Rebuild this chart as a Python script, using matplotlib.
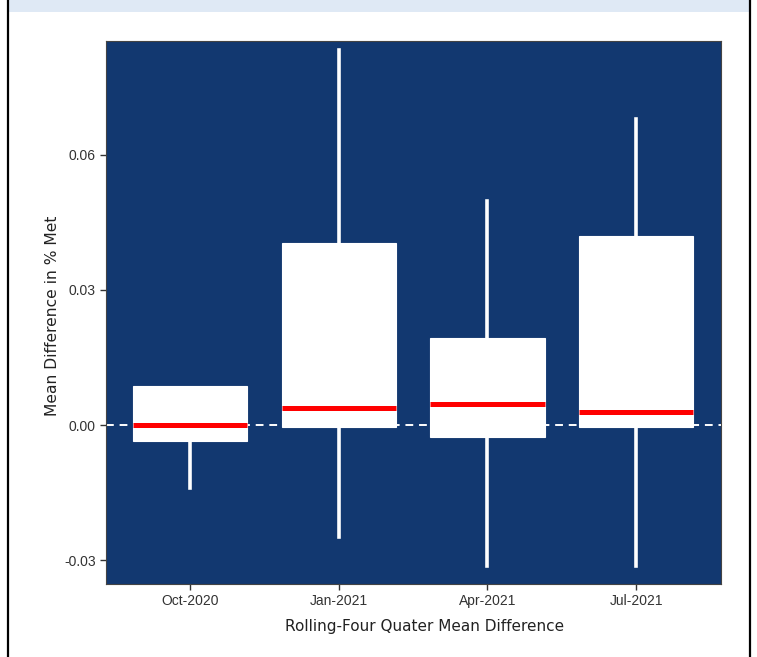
import matplotlib
matplotlib.use("Agg")
import matplotlib.pyplot as plt
from matplotlib.lines import Line2D
from matplotlib.patches import Rectangle

categories = ["Oct-2020", "Jan-2021", "Apr-2021", "Jul-2021"]
whisker_low = [-0.0140, -0.0249, -0.0313, -0.0313]
q1 = [-0.0036, -0.0004, -0.0027, -0.0004]
median = [0.0000, 0.0038, 0.0047, 0.0029]
q3 = [0.0087, 0.0404, 0.0193, 0.0420]
whisker_high = [0.0087, 0.0833, 0.0498, 0.0680]
y_ticks = [-0.03, 0.0, 0.03, 0.06]

fig = plt.figure(figsize=(7.57, 6.57), dpi=100)
# top light band and frame
fig.add_artist(Rectangle((8/757, 1 - 12/657), (750-8)/757, 12/657, transform=fig.transFigure,
                         facecolor="#dfe9f5", edgecolor="none"))
fig.add_artist(Line2D([8/757, 8/757], [0, 1], transform=fig.transFigure, color="black", lw=1.6))
fig.add_artist(Line2D([750/757, 750/757], [0, 1], transform=fig.transFigure, color="black", lw=1.6))

ax = fig.add_axes([106/757, 73/657, (721-106)/757, (584-41)/657])
ax.set_facecolor("#123870")

stats = []
for i, c in enumerate(categories):
    stats.append(dict(label=c, whislo=whisker_low[i], q1=q1[i], med=median[i],
                      q3=q3[i], whishi=whisker_high[i]))
positions = list(range(1, len(categories) + 1))
ax.axhline(0, color="white", lw=1.4, ls=(0, (4, 3)), zorder=1)
ax.bxp(stats, positions=positions, widths=0.77, showfliers=False, patch_artist=True,
       boxprops=dict(facecolor="white", edgecolor="white", lw=0.8),
       whiskerprops=dict(color="white", lw=2.6),
       capprops=dict(visible=False),
       medianprops=dict(color="#ff0000", lw=3.6, solid_capstyle="butt"),
       zorder=2)

ax.set_xlim(0.435, 4.57)
ax.set_ylim(-0.0353, 0.0853)
ax.set_yticks(y_ticks)
ax.set_yticklabels(["%.2f" % v for v in y_ticks])
ax.set_xticks(positions)
ax.set_xticklabels(categories)
for lab in ax.get_xticklabels() + ax.get_yticklabels():
    lab.set_fontfamily("Liberation Sans")
    lab.set_fontsize(10)
    lab.set_color("#333333")
ax.tick_params(length=4, width=1, color="#333333")
for s in ax.spines.values():
    s.set_color("#444444")
    s.set_linewidth(0.8)

ax.set_ylabel("Mean Difference in % Met", fontfamily="DejaVu Sans", fontsize=11.2, color="#222222")
ax.yaxis.set_label_coords((60 - 106) / 615, (657 - 316 - 73) / 543)
ax.set_xlabel("Rolling-Four Quater Mean Difference", fontfamily="DejaVu Sans", fontsize=11, color="#222222")
ax.xaxis.set_label_coords((425 - 106) / 615, (30 - 73) / 543)
ax.xaxis.label.set_verticalalignment("center")

fig.savefig("out.png", dpi=100)
